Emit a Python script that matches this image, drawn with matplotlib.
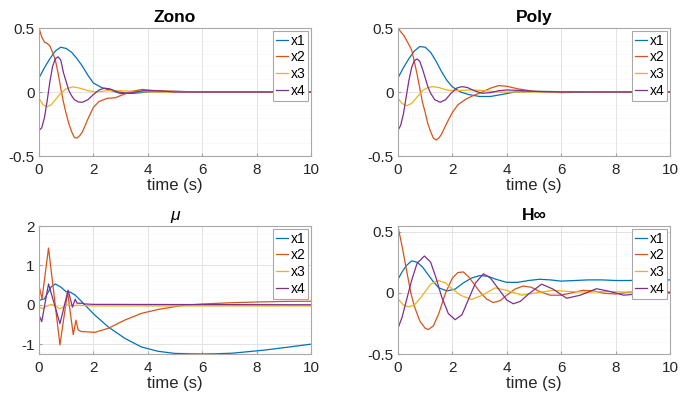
import matplotlib
matplotlib.use("Agg")
import matplotlib.pyplot as plt
from matplotlib.ticker import MultipleLocator

plt.rcParams['font.family'] = ['Liberation Sans', 'DejaVu Sans']

colors = ['#0072BD', '#D95319', '#EDB120', '#7E2F8E']
labels = ['x1', 'x2', 'x3', 'x4']

# ---- Zono ----
zono_t1 = [0, 0.2, 0.4, 0.6, 0.8, 1.0, 1.2, 1.4, 1.6, 1.8, 2.0, 2.3, 2.6, 3.0, 3.5, 4.0, 5, 6, 10]
zono_x1 = [0.11, 0.19, 0.26, 0.32, 0.35, 0.34, 0.31, 0.26, 0.20, 0.13, 0.07, 0.035, 0.015, -0.012, -0.01, 0.0, 0.005, 0, 0]
zono_t2 = [0, 0.1, 0.2, 0.3, 0.4, 0.5, 0.6, 0.7, 0.8, 0.9, 1.0, 1.1, 1.2, 1.3, 1.4, 1.5, 1.6,
           1.8, 2.0, 2.2, 2.5, 2.8, 3.1, 3.4, 3.8, 4.2, 5, 6, 10]
zono_x2 = [0.5, 0.43, 0.39, 0.38, 0.36, 0.31, 0.25, 0.15, 0.03, -0.08, -0.17, -0.25, -0.31, -0.355, -0.36,
           -0.34, -0.31, -0.21, -0.12, -0.075, -0.05, -0.045, -0.02, 0.005, 0.02, 0.012, 0.005, 0, 0]
zono_t3 = [0, 0.15, 0.3, 0.45, 0.6, 0.8, 1.0, 1.25, 1.5, 1.8, 2.1, 2.5, 3.0, 3.5, 4, 5, 10]
zono_x3 = [-0.05, -0.10, -0.115, -0.10, -0.06, -0.01, 0.025, 0.04, 0.03, 0.01, 0.0, 0.01, 0.01, 0.005, 0, 0, 0]
zono_t4 = [0, 0.1, 0.2, 0.3, 0.4, 0.5, 0.6, 0.7, 0.8, 0.9, 1.0, 1.1, 1.2, 1.3, 1.45, 1.6, 1.8,
           2.0, 2.2, 2.4, 2.6, 2.9, 3.3, 3.8, 4.3, 5, 10]
zono_x4 = [-0.30, -0.28, -0.20, -0.07, 0.08, 0.20, 0.26, 0.275, 0.25, 0.15, 0.08, 0.01, -0.03, -0.06,
           -0.078, -0.08, -0.06, -0.02, 0.015, 0.03, 0.025, 0.0, -0.01, 0.01, 0.01, 0.0, 0]

# ---- Poly ----
poly_t1 = [0, 0.2, 0.4, 0.6, 0.8, 1.0, 1.2, 1.4, 1.6, 1.8, 2.0, 2.3, 2.6, 3.0, 3.4, 3.8, 4.3, 5, 6, 10]
poly_x1 = [0.11, 0.19, 0.26, 0.32, 0.355, 0.35, 0.31, 0.24, 0.16, 0.09, 0.04, 0.0, -0.02, -0.035,
           -0.035, -0.02, 0.0, 0.005, 0.003, 0]
poly_t2 = [0, 0.1, 0.2, 0.3, 0.4, 0.5, 0.6, 0.7, 0.8, 0.9, 1.0, 1.1, 1.2, 1.3, 1.4, 1.5, 1.6, 1.8,
           2.0, 2.2, 2.5, 2.8, 3.1, 3.4, 3.7, 4.0, 4.4, 5, 6, 7, 10]
poly_x2 = [0.5, 0.47, 0.445, 0.41, 0.37, 0.33, 0.24, 0.14, 0.03, -0.08, -0.16, -0.25, -0.31, -0.36,
           -0.375, -0.36, -0.33, -0.24, -0.16, -0.10, -0.055, -0.025, 0.0, 0.03, 0.05, 0.045, 0.025,
           0.005, -0.005, 0, 0]
poly_t3 = [0, 0.15, 0.32, 0.5, 0.7, 0.9, 1.05, 1.25, 1.5, 1.8, 2.1, 2.5, 2.8, 3.2, 3.7, 4.5, 10]
poly_x3 = [-0.05, -0.09, -0.107, -0.09, -0.04, 0.01, 0.03, 0.042, 0.035, 0.015, 0.01, 0.014, 0.016,
           0.01, 0.0, 0, 0]
poly_t4 = [0, 0.1, 0.2, 0.3, 0.4, 0.5, 0.6, 0.7, 0.8, 0.9, 1.0, 1.1, 1.2, 1.35, 1.55, 1.75, 1.95,
           2.15, 2.35, 2.55, 2.8, 3.1, 3.4, 3.7, 4.0, 4.5, 5, 6, 10]
poly_x4 = [-0.30, -0.26, -0.17, -0.04, 0.09, 0.19, 0.245, 0.258, 0.24, 0.18, 0.11, 0.04, -0.01, -0.06,
           -0.08, -0.06, -0.01, 0.03, 0.042, 0.035, 0.01, -0.01, -0.005, 0.01, 0.016, 0.012, 0.005, 0.0, 0]

# ---- mu ----
mu_t1 = [0, 0.2, 0.44, 0.6, 0.8, 1.0, 1.15, 1.32, 1.5, 1.68, 2.05, 2.54, 3.15, 3.76, 4.37, 4.98,
         5.5, 6.0, 6.5, 7.1, 7.7, 8.3, 9.0, 10]
mu_x1 = [0.11, 0.15, 0.45, 0.53, 0.45, 0.33, 0.32, 0.25, 0.13, 0.0, -0.26, -0.56, -0.85, -1.07,
         -1.18, -1.235, -1.245, -1.25, -1.245, -1.23, -1.19, -1.15, -1.09, -1.0]
mu_t2 = [0, 0.11, 0.35, 0.77, 1.05, 1.26, 1.36, 1.44, 1.56, 2.05, 2.54, 3.15, 3.76, 4.37, 4.98,
         5.35, 6.0, 7.0, 8.0, 9.0, 10]
mu_x2 = [0.49, 0.15, 1.44, -1.02, 0.32, -0.76, -0.39, -0.64, -0.68, -0.70, -0.60, -0.39, -0.22,
         -0.12, -0.05, -0.01, 0.02, 0.05, 0.07, 0.085, 0.09]
mu_t3 = [0, 0.12, 0.3, 0.45, 0.6, 0.77, 0.9, 1.05, 1.26, 1.4, 1.6, 2.0, 3, 5, 10]
mu_x3 = [-0.05, -0.1, -0.03, 0.01, -0.03, -0.1, -0.06, 0.0, -0.03, -0.01, -0.02, -0.03, -0.03, -0.03, -0.03]
mu_t4 = [0, 0.1, 0.35, 0.77, 1.07, 1.23, 1.33, 1.4, 1.55, 1.7, 2.0, 10]
mu_x4 = [-0.26, -0.43, 0.53, -0.48, 0.37, -0.06, 0.14, 0.04, 0.04, 0.02, 0.01, 0.0]

# ---- Hinf ----
hinf_t1 = [0, 0.15, 0.3, 0.5, 0.7, 0.9, 1.1, 1.3, 1.5, 1.8, 2.1, 2.4, 2.7, 3.0, 3.3, 3.6, 4.0,
           4.4, 4.8, 5.2, 5.6, 6.0, 6.5, 7.0, 7.5, 8.0, 8.5, 9.0, 9.5, 10]
hinf_x1 = [0.11, 0.17, 0.22, 0.26, 0.25, 0.21, 0.15, 0.09, 0.04, 0.015, 0.03, 0.08, 0.12, 0.14,
           0.135, 0.11, 0.085, 0.085, 0.10, 0.11, 0.105, 0.095, 0.10, 0.105, 0.105, 0.10, 0.10,
           0.105, 0.105, 0.105]
hinf_t2 = [0, 0.15, 0.3, 0.47, 0.6, 0.8, 1.0, 1.12, 1.3, 1.5, 1.75, 2.0, 2.2, 2.4, 2.6, 2.8, 3.0,
           3.25, 3.5, 3.75, 4.0, 4.3, 4.6, 4.9, 5.2, 5.6, 6.0, 6.4, 6.8, 7.2, 7.6, 8.0, 8.5, 9.0, 9.5, 10]
hinf_x2 = [0.54, 0.38, 0.2, 0.0, -0.11, -0.23, -0.29, -0.30, -0.27, -0.17, 0.0, 0.12, 0.165, 0.17,
           0.13, 0.07, 0.01, -0.05, -0.08, -0.065, -0.02, 0.03, 0.055, 0.045, 0.01, -0.02, -0.02,
           0.0, 0.02, 0.015, -0.005, -0.01, 0.005, 0.01, 0.0, 0.0]
hinf_t3 = [0, 0.2, 0.38, 0.6, 0.8, 1.0, 1.2, 1.48, 1.75, 2.0, 2.3, 2.7, 3.1, 3.57, 4.0, 4.55, 5.1,
           5.7, 6.3, 7.0, 7.7, 8.4, 9.2, 10]
hinf_x3 = [-0.05, -0.1, -0.115, -0.1, -0.05, 0.01, 0.07, 0.10, 0.08, 0.03, -0.02, -0.055, -0.02,
           0.04, 0.02, -0.02, 0.0, 0.02, 0.01, 0.005, 0.01, 0.005, 0.01, 0.01]
hinf_t4 = [0, 0.15, 0.3, 0.5, 0.7, 0.97, 1.2, 1.4, 1.6, 1.85, 2.1, 2.35, 2.6, 2.85, 3.14, 3.4, 3.7,
           4.0, 4.24, 4.5, 4.8, 5.28, 5.7, 6.2, 6.7, 7.3, 7.8, 8.3, 8.8, 9.4, 10]
hinf_x4 = [-0.29, -0.2, -0.07, 0.1, 0.24, 0.30, 0.25, 0.12, -0.03, -0.17, -0.22, -0.18, -0.05, 0.08,
           0.155, 0.12, 0.03, -0.06, -0.09, -0.07, -0.01, 0.07, 0.03, -0.045, -0.02, 0.033, 0.01,
           -0.02, -0.01, 0.01, 0.0]

panels = [
    dict(title='Zono', style='normal', weight='bold', ylim=(-0.5, 0.5), yticks=[-0.5, 0, 0.5],
         yticklabels=['-0.5', '0', '0.5'], minor=0.1,
         series=[(zono_t1, zono_x1), (zono_t2, zono_x2), (zono_t3, zono_x3), (zono_t4, zono_x4)]),
    dict(title='Poly', style='normal', weight='bold', ylim=(-0.5, 0.5), yticks=[-0.5, 0, 0.5],
         yticklabels=['-0.5', '0', '0.5'], minor=0.1,
         series=[(poly_t1, poly_x1), (poly_t2, poly_x2), (poly_t3, poly_x3), (poly_t4, poly_x4)]),
    dict(title='μ', style='italic', weight='normal', ylim=(-1.25, 2), yticks=[-1, 0, 1, 2],
         yticklabels=['-1', '0', '1', '2'], minor=0.2,
         series=[(mu_t1, mu_x1), (mu_t2, mu_x2), (mu_t3, mu_x3), (mu_t4, mu_x4)]),
    dict(title='H∞', style='normal', weight='bold', ylim=(-0.5, 0.545), yticks=[-0.5, 0, 0.5],
         yticklabels=['-0.5', '0', '0.5'], minor=0.1,
         series=[(hinf_t1, hinf_x1), (hinf_t2, hinf_x2), (hinf_t3, hinf_x3), (hinf_t4, hinf_x4)]),
]

W, H = 694, 400
boxes = [(39, 28), (398, 28), (39, 226), (398, 226)]
aw, ah = 272, 128

fig = plt.figure(figsize=(W / 100, H / 100), dpi=100)
for (x0, y0), p in zip(boxes, panels):
    ax = fig.add_axes([x0 / W, 1 - (y0 + ah) / H, aw / W, ah / H])
    for (t, v), c, lab in zip(p['series'], colors, labels):
        ax.plot(t, v, color=c, lw=0.9, label=lab)
    ax.set_xlim(0, 10)
    ax.set_ylim(*p['ylim'])
    ax.set_xticks([0, 2, 4, 6, 8, 10])
    ax.set_yticks(p['yticks'])
    ax.set_yticklabels(p['yticklabels'])
    ax.yaxis.set_minor_locator(MultipleLocator(p['minor']))
    ax.grid(True, which='major', color='#e3e3e3', lw=0.7)
    ax.grid(True, which='minor', axis='y', color='#efefef', lw=0.6, ls=':')
    ax.set_axisbelow(True)
    ax.tick_params(which='major', direction='in', length=2.5, color='#a0a0a0',
                   labelsize=11, labelcolor='#262626')
    ax.tick_params(axis='x', pad=5)
    ax.tick_params(axis='y', pad=3)
    ax.tick_params(which='minor', length=0)
    for s in ax.spines.values():
        s.set_color('#a8a8a8')
        s.set_linewidth(0.8)
    ax.set_xlabel('time (s)', fontsize=12, color='#262626', labelpad=1)
    ax.set_title(p['title'], fontsize=12.5, fontweight=p['weight'], fontstyle=p['style'],
                 color='#000000', pad=4)
    leg = ax.legend(loc='upper right', fontsize=10, handlelength=0.9, handletextpad=0.15,
                    borderpad=0.2, labelspacing=0.2, borderaxespad=0.2, fancybox=False,
                    framealpha=1, edgecolor='#a8a8a8')
    leg.get_frame().set_linewidth(0.8)

fig.savefig('out.png', dpi=100)
